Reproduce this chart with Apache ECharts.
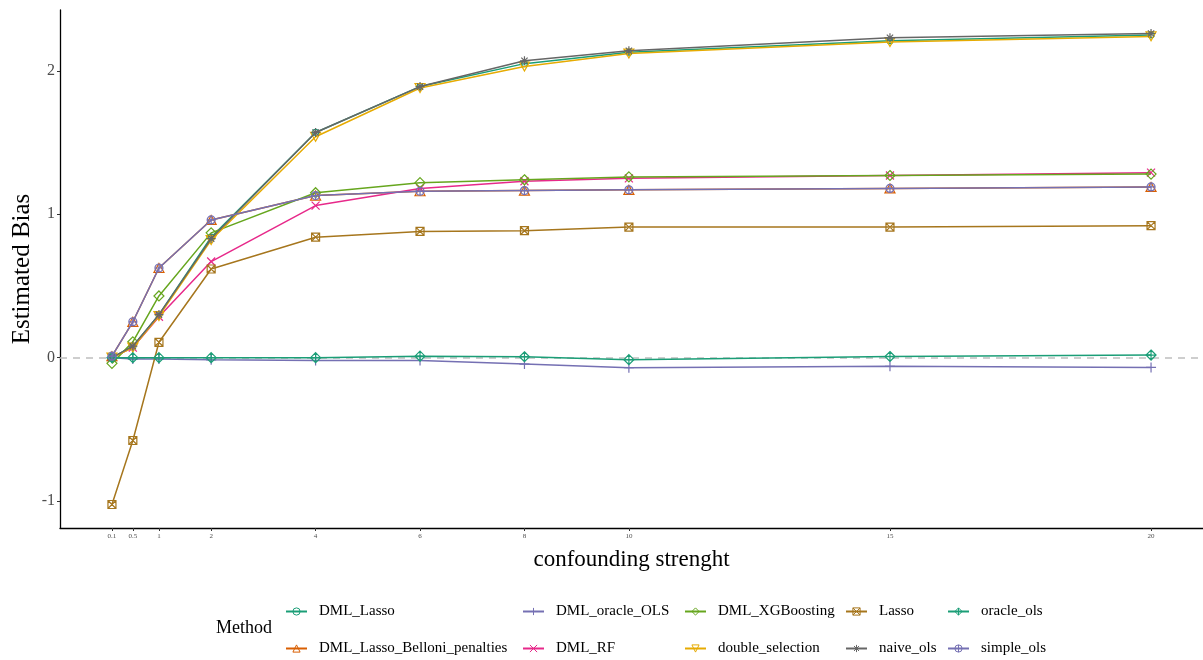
<!DOCTYPE html>
<html>
<head>
<meta charset="utf-8">
<title>Estimated Bias by confounding strength</title>
<script src="https://cdn.jsdelivr.net/npm/echarts@6/dist/echarts.min.js"></script>
<style>
  html, body { margin: 0; padding: 0; background: #ffffff; }
  #chart { width: 1203px; height: 660px; }
</style>
</head>
<body>
<div id="chart"></div>
<script>
// Confounding strength levels (x positions)
const strength = [0.1, 0.5, 1, 2, 4, 6, 8, 10, 15, 20];

// Estimated bias per method
const dmlLasso        = [0.00, 0.08, 0.30, 0.84, 1.57, 1.89, 2.05, 2.13, 2.21, 2.25];
const dmlLassoBelloni = [0.01, 0.25, 0.625, 0.96, 1.13, 1.16, 1.165, 1.17, 1.18, 1.19];
const dmlOracleOls    = [0.00, -0.01, -0.01, -0.015, -0.02, -0.02, -0.045, -0.07, -0.06, -0.068];
const dmlRf           = [0.00, 0.07, 0.285, 0.67, 1.06, 1.18, 1.23, 1.25, 1.27, 1.29];
const dmlXgb          = [-0.04, 0.11, 0.43, 0.87, 1.15, 1.22, 1.24, 1.26, 1.27, 1.28];
const doubleSelection = [0.00, 0.07, 0.29, 0.82, 1.54, 1.88, 2.03, 2.12, 2.20, 2.24];
const lasso           = [-1.024, -0.578, 0.107, 0.618, 0.84, 0.88, 0.885, 0.91, 0.91, 0.92];
const naiveOls        = [0.00, 0.08, 0.30, 0.83, 1.57, 1.89, 2.07, 2.14, 2.23, 2.26];
const oracleOls       = [0.00, 0.00, 0.00, 0.00, 0.00, 0.01, 0.006, -0.014, 0.008, 0.018];
const simpleOls       = [0.01, 0.25, 0.625, 0.96, 1.13, 1.16, 1.165, 1.17, 1.18, 1.19];

// Axis tick values
const xTicks = [0.1, 0.5, 1, 2, 4, 6, 8, 10, 15, 20];
const yTicks = [-1, 0, 1, 2];

const FONT = "'Liberation Serif', 'DejaVu Serif', serif";

// Marker shapes (open outlines)
const SYM = {
  circle:   'path://M0,5A5,5 0 1,1 10,5A5,5 0 1,1 0,5Z',
  triUp:    'path://M5,0L10,9L0,9Z',
  plus:     'path://M5,0L5,10M0,5L10,5',
  cross:    'path://M0,0L10,10M10,0L0,10',
  diamond:  'path://M5,0L10,5L5,10L0,5Z',
  triDown:  'path://M0,1L10,1L5,10Z',
  sqCross:  'path://M0,0L10,0L10,10L0,10Z M0,0L10,10 M10,0L0,10',
  asterisk: 'path://M5,0L5,10M0,5L10,5M1.5,1.5L8.5,8.5M8.5,1.5L1.5,8.5',
  diaPlus:  'path://M5,0L10,5L5,10L0,5Z M5,0L5,10M0,5L10,5',
  circPlus: 'path://M0,5A5,5 0 1,1 10,5A5,5 0 1,1 0,5Z M5,0L5,10M0,5L10,5'
};

const methods = [
  { name: 'DML_Lasso',                   values: dmlLasso,        color: '#1B9E77', symbol: SYM.circle,   size: 6 },
  { name: 'DML_Lasso_Belloni_penalties', values: dmlLassoBelloni, color: '#D95F02', symbol: SYM.triUp,    size: 10 },
  { name: 'DML_oracle_OLS',              values: dmlOracleOls,    color: '#7570B3', symbol: SYM.plus,     size: 10 },
  { name: 'DML_RF',                      values: dmlRf,           color: '#E7298A', symbol: SYM.cross,    size: 8 },
  { name: 'DML_XGBoosting',              values: dmlXgb,          color: '#66A61E', symbol: SYM.diamond,  size: 10 },
  { name: 'double_selection',            values: doubleSelection, color: '#E6AB02', symbol: SYM.triDown,  size: 10 },
  { name: 'Lasso',                       values: lasso,           color: '#A6761D', symbol: SYM.sqCross,  size: 8 },
  { name: 'naive_ols',                   values: naiveOls,        color: '#666666', symbol: SYM.asterisk, size: 9 },
  { name: 'oracle_ols',                  values: oracleOls,       color: '#1B9E77', symbol: SYM.diaPlus,  size: 10 },
  { name: 'simple_ols',                  values: simpleOls,       color: '#7570B3', symbol: SYM.circPlus, size: 8 }
];

const series = methods.map((m, i) => ({
  name: m.name,
  type: 'line',
  data: strength.map((x, k) => [x, m.values[k]]),
  symbol: m.symbol,
  symbolSize: m.size,
  symbolKeepAspect: true,
  showAllSymbol: true,
  color: m.color,
  lineStyle: { color: m.color, width: 1.5 },
  itemStyle: { color: 'rgba(255,255,255,0)', borderColor: m.color, borderWidth: 1.2 },
  emphasis: { disabled: true },
  animation: false,
  z: 2 + i,
  markLine: i === 0 ? {
    silent: true,
    symbol: 'none',
    label: { show: false },
    lineStyle: { color: '#BEBEBE', type: [7, 6], width: 1.5 },
    data: [{ yAxis: 0 }],
    z: 1
  } : undefined
}));

// Legend arranged in five columns of two rows
const legendCols = [
  { left: 285, names: ['DML_Lasso', 'DML_Lasso_Belloni_penalties'] },
  { left: 522, names: ['DML_oracle_OLS', 'DML_RF'] },
  { left: 684, names: ['DML_XGBoosting', 'double_selection'] },
  { left: 845, names: ['Lasso', 'naive_ols'] },
  { left: 947, names: ['oracle_ols', 'simple_ols'] }
];

const legends = legendCols.map(c => ({
  orient: 'vertical',
  left: c.left,
  top: 604,
  height: 80,
  padding: 0,
  itemWidth: 21,
  itemHeight: 9,
  itemGap: 22,
  selectedMode: false,
  data: c.names,
  itemStyle: { borderWidth: 1 },
  textStyle: { fontFamily: FONT, fontSize: 15, color: '#000000', padding: [0, 0, 0, 7] }
}));

const chart = echarts.init(document.getElementById('chart'), null, { renderer: 'canvas' });

chart.setOption({
  backgroundColor: '#ffffff',
  animation: false,
  grid: { left: 60, right: 0, top: 10, bottom: 132, containLabel: false, outerBoundsMode: 'none' },
  xAxis: {
    type: 'value',
    min: -0.895,
    max: 20.995,
    name: 'confounding strenght',
    nameLocation: 'middle',
    nameGap: 20,
    nameMoveOverlap: false,
    nameTextStyle: { fontFamily: FONT, fontSize: 23, color: '#000000' },
    axisLine: { show: true, onZero: false, lineStyle: { color: '#000000', width: 1.3 } },
    axisTick: { show: true, length: 3, customValues: xTicks, lineStyle: { color: '#333333', width: 1 } },
    axisLabel: { customValues: xTicks, fontFamily: FONT, fontSize: 7, color: '#4D4D4D', margin: 5 },
    splitLine: { show: false }
  },
  yAxis: {
    type: 'value',
    min: -1.188,
    max: 2.424,
    name: 'Estimated Bias',
    nameLocation: 'middle',
    nameGap: 25,
    nameMoveOverlap: false,
    nameTextStyle: { fontFamily: FONT, fontSize: 25, color: '#000000' },
    axisLine: { show: true, onZero: false, lineStyle: { color: '#000000', width: 1.3 } },
    axisTick: { show: true, length: 3, customValues: yTicks, lineStyle: { color: '#333333', width: 1 } },
    axisLabel: { customValues: yTicks, fontFamily: FONT, fontSize: 16, color: '#4D4D4D', margin: 5 },
    splitLine: { show: false }
  },
  legend: legends,
  graphic: [{
    type: 'text',
    left: 216,
    top: 619,
    style: { text: 'Method', font: "18px 'Liberation Serif', serif", fill: '#000000' }
  }],
  series: series
});
</script>
</body>
</html>
